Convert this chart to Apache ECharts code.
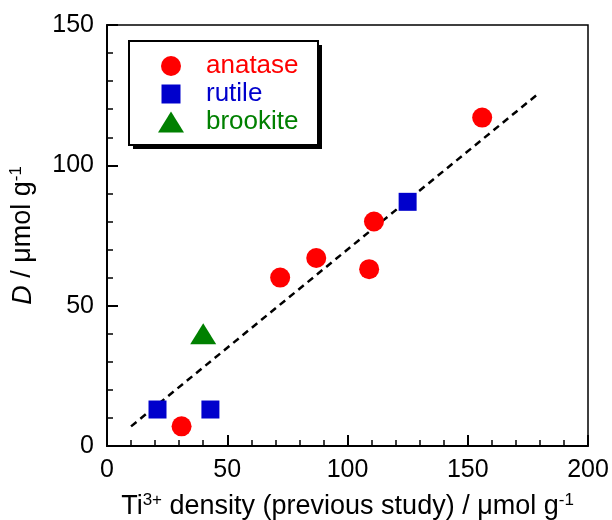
<!DOCTYPE html>
<html>
<head>
<meta charset="utf-8">
<script src="https://cdn.jsdelivr.net/npm/echarts@6/dist/echarts.min.js"></script>
<style>
  html, body { margin: 0; padding: 0; background: #fff; }
  #chart { width: 612px; height: 520px; }
</style>
</head>
<body>
<div id="chart"></div>
<script>
var anataseX = [31, 72, 87, 109, 111, 156];
var anataseY = [7, 60, 67, 63, 80, 117];
var rutileX = [21, 43, 125];
var rutileY = [13, 13, 87];
var brookiteX = [40];
var brookiteY = [40];
var fitX = [10, 180];
var fitY = [7, 126];
var xTicks = [0, 50, 100, 150, 200];
var yTicks = [0, 50, 100, 150];

var font = "'Liberation Sans', Arial, sans-serif";

function pairs(xs, ys) {
  var out = [];
  for (var i = 0; i < xs.length; i++) {
    out.push([xs[i], ys[i]]);
  }
  return out;
}

// legend icons: the lone moveTo points keep the 26x21 box so the shape is not stretched
var circleIcon = 'path://M0,0M26,21M3,10.5a10,10 0 1,0 20,0a10,10 0 1,0 -20,0z';
var squareIcon = 'path://M0,0M26,21M3.5,1h19v19h-19z';

var option = {
  animation: false,
  textStyle: { fontFamily: font, color: '#000' },
  grid: {
    left: 107,
    right: 24,
    top: 25,
    bottom: 74,
    outerBoundsMode: 'none',
    containLabel: false,
    show: true,
    borderColor: '#000',
    borderWidth: 1.5
  },
  graphic: [{
    type: 'rect',
    z: 3,
    shape: { x: 133, y: 45, width: 189, height: 104 },
    style: { fill: '#000' }
  }, {
    type: 'rect',
    z: 3,
    shape: { x: 129, y: 41, width: 189, height: 104 },
    style: { fill: '#fff', stroke: '#000', lineWidth: 2 }
  }],
  legend: {
    orient: 'vertical',
    left: 158,
    top: 53,
    z: 6,
    padding: 0,
    itemWidth: 26,
    itemHeight: 21,
    itemGap: 2,
    textStyle: { fontFamily: font, fontSize: 26, lineHeight: 26, padding: [0, 0, 0, 17] },
    data: [
      { name: 'anatase', icon: circleIcon, textStyle: { color: '#ff0000' } },
      { name: 'rutile', icon: squareIcon, textStyle: { color: '#0000cc' } },
      { name: 'brookite', icon: 'triangle', textStyle: { color: '#008000' } }
    ]
  },
  xAxis: {
    type: 'value',
    min: xTicks[0],
    max: xTicks[xTicks.length - 1],
    interval: 50,
    name: '{a|Ti}{sup|3+}{a| density (previous study) / μmol g}{sup|-1}',
    nameLocation: 'middle',
    nameGap: 46,
    nameTextStyle: {
      rich: {
        a: { fontFamily: font, fontSize: 27, lineHeight: 30, color: '#000' },
        sup: { fontFamily: font, fontSize: 17, lineHeight: 18, verticalAlign: 'top', color: '#000' }
      }
    },
    axisLine: { onZero: false, lineStyle: { color: '#000', width: 2 } },
    axisTick: { inside: true, length: 11, lineStyle: { color: '#000', width: 2 } },
    minorTick: { show: true, splitNumber: 5, length: 6, lineStyle: { color: '#000', width: 1.5 } },
    splitLine: { show: false },
    axisLabel: { fontFamily: font, fontSize: 25, color: '#000', margin: 12 }
  },
  yAxis: {
    type: 'value',
    min: yTicks[0],
    max: yTicks[yTicks.length - 1],
    interval: 50,
    name: '{i|D}{a| / μmol g}{sup|-1}',
    nameLocation: 'middle',
    nameRotate: 90,
    nameGap: 69,
    nameTextStyle: {
      rich: {
        i: { fontFamily: font, fontSize: 27, fontStyle: 'italic', lineHeight: 30, color: '#000' },
        a: { fontFamily: font, fontSize: 27, lineHeight: 30, color: '#000' },
        sup: { fontFamily: font, fontSize: 17, lineHeight: 18, verticalAlign: 'top', color: '#000' }
      }
    },
    axisLine: { onZero: false, lineStyle: { color: '#000', width: 2 } },
    axisTick: { inside: true, length: 11, lineStyle: { color: '#000', width: 2 } },
    minorTick: { show: true, splitNumber: 5, length: 6, lineStyle: { color: '#000', width: 1.5 } },
    splitLine: { show: false },
    axisLabel: { fontFamily: font, fontSize: 25, color: '#000', margin: 13 }
  },
  series: [{
    name: 'fit',
    type: 'line',
    data: pairs(fitX, fitY),
    symbol: 'none',
    z: 1,
    lineStyle: { color: '#000', width: 2.5, type: [7, 5] }
  }, {
    name: 'anatase',
    type: 'scatter',
    data: pairs(anataseX, anataseY),
    symbol: 'circle',
    symbolSize: 20,
    z: 3,
    itemStyle: { color: '#ff0000', opacity: 1 }
  }, {
    name: 'rutile',
    type: 'scatter',
    data: pairs(rutileX, rutileY),
    symbol: 'rect',
    symbolSize: 18,
    z: 3,
    itemStyle: { color: '#0000cc', opacity: 1 }
  }, {
    name: 'brookite',
    type: 'scatter',
    data: pairs(brookiteX, brookiteY),
    symbol: 'triangle',
    symbolSize: [26, 21],
    z: 3,
    itemStyle: { color: '#008000', opacity: 1 }
  }]
};

var myChart = echarts.init(document.getElementById('chart'));
myChart.setOption(option);
</script>
</body>
</html>
